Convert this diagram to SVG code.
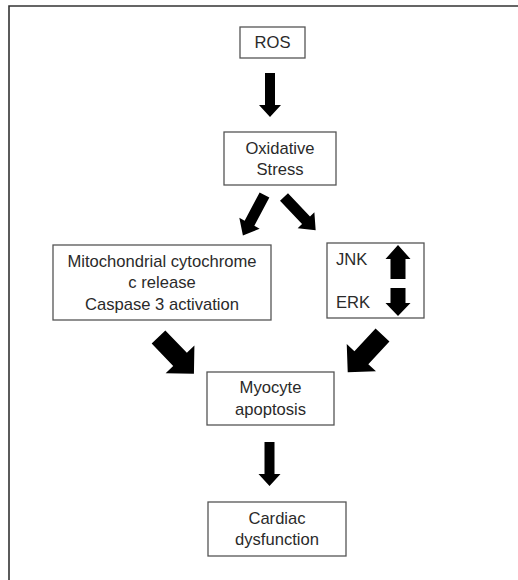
<svg xmlns="http://www.w3.org/2000/svg" width="518" height="580" viewBox="0 0 518 580">
<style>
.box{fill:#fff;stroke:#555;stroke-width:1.3}
.t{font-family:"Liberation Sans",Arial,sans-serif;font-size:16.6px;fill:#2a2a2a;text-anchor:middle}
.tl{font-family:"Liberation Sans",Arial,sans-serif;font-size:16.6px;fill:#2a2a2a}
.arr{fill:#000}
</style>
<defs>
<polygon id="aSmall" points="0,-5 32,-5 32,-11 44,0 32,11 32,5 0,5"/>
<polygon id="aDiag" points="0,-5.5 32,-5.5 32,-11.5 46,0 32,11.5 32,5.5 0,5.5"/>
<polygon id="aBig" points="0,-9.5 31,-9.5 31,-20 51,0 31,20 31,9.5 0,9.5"/>
</defs>
<rect width="518" height="580" fill="#fff"/>
<path d="M9,580 V6 H518" fill="none" stroke="#333" stroke-width="1.6"/>

<g id="connectors" class="arr">
<use href="#aSmall" transform="translate(270,73) rotate(90)"/>
<use href="#aDiag" transform="translate(264.5,195) rotate(118)"/>
<use href="#aDiag" transform="translate(284,197) rotate(46.5)"/>
<use href="#aBig" transform="translate(158.5,337) rotate(46)"/>
<use href="#aBig" transform="translate(382.5,335) rotate(133)"/>
<use href="#aSmall" transform="translate(269.5,442) rotate(90)"/>
</g>

<g id="ros">
<rect class="box" x="240" y="27" width="65" height="31"/>
<text class="t" x="272.5" y="48">ROS</text>
</g>

<g id="oxidative-stress">
<rect class="box" x="224" y="132" width="112" height="53"/>
<text class="t" x="280" y="153.5">Oxidative</text>
<text class="t" x="280" y="175">Stress</text>
</g>

<g id="mitochondrial">
<rect class="box" x="53" y="245" width="218" height="75"/>
<text class="t" x="162" y="266.5">Mitochondrial cytochrome</text>
<text class="t" x="162" y="288">c release</text>
<text class="t" x="162" y="309.5">Caspase 3 activation</text>
</g>

<g id="jnk-erk">
<rect class="box" x="327" y="243" width="97" height="75"/>
<text class="tl" x="336" y="265">JNK</text>
<text class="tl" x="336" y="308">ERK</text>
<polygon class="arr" points="0,-7.5 20,-7.5 20,-12.5 34,0 20,12.5 20,7.5 0,7.5" transform="translate(398,279) rotate(-90)"/>
<polygon class="arr" points="0,-7.5 15,-7.5 15,-12.5 28,0 15,12.5 15,7.5 0,7.5" transform="translate(398,288) rotate(90)"/>
</g>

<g id="myocyte-apoptosis">
<rect class="box" x="207" y="372" width="127" height="53"/>
<text class="t" x="270.5" y="393">Myocyte</text>
<text class="t" x="270.5" y="414.5">apoptosis</text>
</g>

<g id="cardiac-dysfunction">
<rect class="box" x="208" y="502" width="138" height="54"/>
<text class="t" x="277" y="523.5">Cardiac</text>
<text class="t" x="277" y="545">dysfunction</text>
</g>
</svg>
